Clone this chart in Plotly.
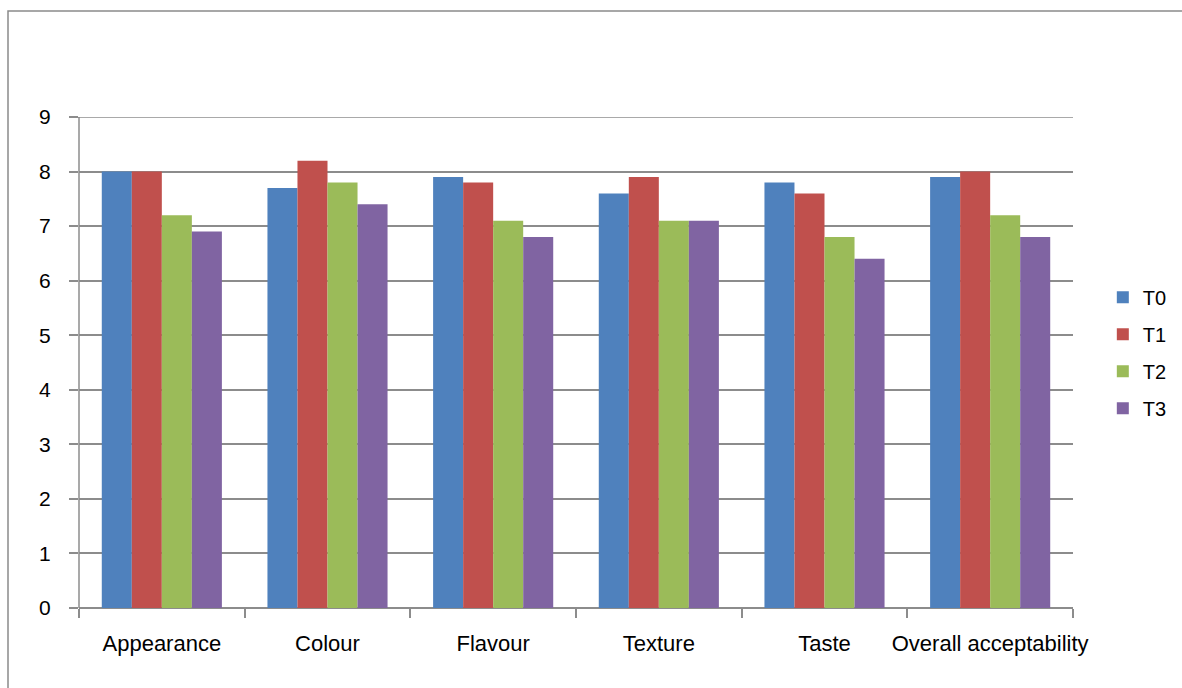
import plotly.graph_objects as go

# Sensory scores per attribute for each treatment
categories = ["Appearance", "Colour", "Flavour", "Texture", "Taste", "Overall acceptability"]
t0 = [8.0, 7.7, 7.9, 7.6, 7.8, 7.9]
t1 = [8.0, 8.2, 7.8, 7.9, 7.6, 8.0]
t2 = [7.2, 7.8, 7.1, 7.1, 6.8, 7.2]
t3 = [6.9, 7.4, 6.8, 7.1, 6.4, 6.8]
series_names = ["T0", "T1", "T2", "T3"]
colors = ["#4F81BD", "#C0504D", "#9BBB59", "#8064A2"]
y_max = 9

FONT = "Liberation Sans"
GRID = "#8c8c8c"

fig = go.Figure()
for name, vals, col in zip(series_names, [t0, t1, t2, t3], colors):
    fig.add_trace(go.Bar(
        x=categories, y=vals, name=name, legendgroup=name,
        marker=dict(color=col, line=dict(width=0)),
    ))

W, H = 1182, 688
L, R, T, B = 79, 109, 117, 80
pw, ph = W - L - R, H - T - B

# outer chart frame (only left and top edges fall inside the page)
fx0 = (8 - L) / pw
fy1 = (H - B - 11) / ph
tick_out = 9 / pw

fig.update_layout(
    width=W, height=H,
    margin=dict(l=L, r=R, t=T, b=B, autoexpand=False),
    paper_bgcolor="white", plot_bgcolor="white",
    barmode="group", bargap=0.275, bargroupgap=0,
    font=dict(family=FONT, size=20, color="#000000"),
    showlegend=True,
    legend=dict(
        x=1.03, xanchor="left", y=0.52, yanchor="middle",
        font=dict(family=FONT, size=20),
        traceorder="grouped", tracegroupgap=8,
        bgcolor="rgba(0,0,0,0)",
    ),
    xaxis=dict(
        type="category", tickson="boundaries", ticks="outside", ticklen=9,
        tickcolor=GRID, tickwidth=1.5, showline=False, showgrid=False,
        tickangle=0, tickfont=dict(family=FONT, size=22), ticklabelstandoff=20,
    ),
    yaxis=dict(
        range=[0, y_max], dtick=1, tick0=0, ticks="outside", ticklen=9,
        tickcolor=GRID, tickwidth=1.5, showgrid=True, gridcolor=GRID, gridwidth=1.5,
        showline=False, zeroline=True,
        zerolinecolor=GRID, zerolinewidth=1.5,
        tickfont=dict(family=FONT, size=21), ticklabelstandoff=14,
    ),
    shapes=[
        dict(
            type="rect", xref="paper", yref="paper",
            x0=fx0, x1=1.5, y0=-0.5, y1=fy1,
            line=dict(color="#8a8a8a", width=1.5), fillcolor="rgba(0,0,0,0)", layer="below",
        ),
        # value axis line
        dict(type="line", xref="paper", yref="y", x0=0, x1=0, y0=0, y1=y_max,
             line=dict(color=GRID, width=1.5)),
        # top gridline with its tick
        dict(type="line", xref="paper", yref="y", x0=-tick_out, x1=1, y0=y_max, y1=y_max,
             line=dict(color=GRID, width=1.5)),
    ],
)

fig.write_html("out.html")
